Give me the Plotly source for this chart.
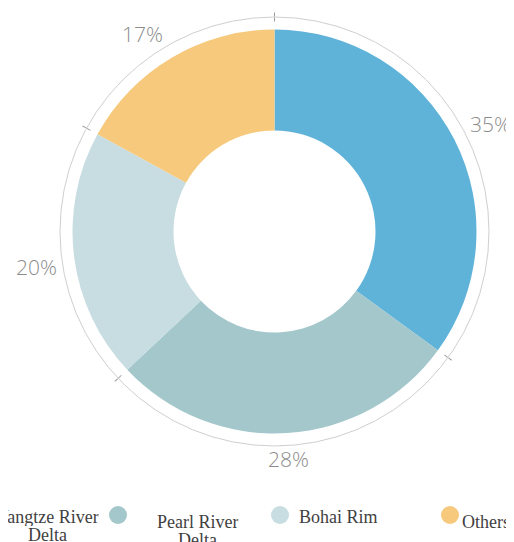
import math
import plotly.graph_objects as go

# data
REGIONS = ["Yangtze River Delta", "Pearl River Delta", "Bohai Rim", "Others"]
LEGEND_LINES = [["Yangtze River", "Delta"], ["Pearl River", "Delta"], ["Bohai Rim"], ["Others"]]
SHARES = [35, 28, 20, 17]
COLORS = ["#5fb3d9", "#a3c7cb", "#c7dde1", "#f7c97d"]

# the page body has an 8px margin, so the figure sits at (8, 8) on screen
BODY = 8
W, H = 514 - BODY, 542 - BODY
CX, CY = 274.5, 231.5        # centre of the donut, screen px
R_PIE, R_RING = 202, 214.5
R_LABEL = 219                 # where the inner corner of each % label sits
LABEL_W, LABEL_H = 42, 17

LABEL_FONT = dict(family="Open Sans, sans-serif", size=21, color="#8c8c8c", weight=300)
LEGEND_FONT = dict(family="Liberation Serif, Times New Roman, serif", size=18, color="#3f3f3f")

# legend placement (screen px, layout only)
LEG_DOT_X = [-40, 118, 280, 450]
LEG_TEXT_X = [47, 197, 338, 486]
LEG_TEXT_TOP = [506, 511, 506, 511]
LEG_DOT_Y = 515
LEG_LINE_H = 18


def _domain(r):
    return dict(x=[(CX - BODY - r) / W, (CX - BODY + r) / W],
                y=[(H - (CY - BODY) - r) / H, (H - (CY - BODY) + r) / H])


def _px(x, y):
    # screen px -> paper coords
    return (x - BODY) / W, 1 - (y - BODY) / H


# slice edges / middles in degrees, clockwise from 12 o'clock
total = sum(SHARES)
edges, mids, acc = [], [], 0
for s in SHARES:
    edges.append(acc / total * 360)
    mids.append((acc + s / 2) / total * 360)
    acc += s

fig = go.Figure()
fig.add_trace(go.Pie(
    labels=REGIONS, values=SHARES, hole=0.5, sort=False,
    direction="clockwise", rotation=0,
    marker=dict(colors=COLORS, line=dict(width=0)),
    textinfo="none", showlegend=False, domain=_domain(R_PIE),
    hovertemplate="%{label}: %{value}%<extra></extra>",
))
for sp in ["polar", "polar2"]:
    fig.add_trace(go.Scatterpolar(r=[None], theta=[None], subplot=sp,
                                  showlegend=False, hoverinfo="skip"))

_ring = dict(rotation=90, direction="clockwise", showgrid=False,
             tickvals=edges, showticklabels=False,
             tickcolor="#9a9a9a", ticklen=4, tickwidth=1)

fig.update_layout(
    width=W, height=H,
    paper_bgcolor="white", plot_bgcolor="white",
    margin=dict(l=0, r=0, t=0, b=0, autoexpand=False),
    showlegend=False,
    polar=dict(domain=_domain(R_RING), bgcolor="rgba(0,0,0,0)",
               radialaxis=dict(visible=False),
               angularaxis=dict(_ring, ticks="outside", showline=True,
                                linecolor="#cfcfcf", linewidth=1)),
    polar2=dict(domain=_domain(R_RING), bgcolor="rgba(0,0,0,0)",
                radialaxis=dict(visible=False),
                angularaxis=dict(_ring, ticks="inside", showline=False)),
)

# percentage labels outside the ring, inner corner facing the centre
for s, m in zip(SHARES, mids):
    a = math.radians(90 - m)
    c, sn = math.cos(a), math.sin(a)
    px_ = CX + R_LABEL * c
    py_ = CY - R_LABEL * sn
    xo = LABEL_W / 2 * (1 if c > 0.2 else -1 if c < -0.2 else 0)
    yo = LABEL_H / 2 * (1 if sn > 0 else -1)
    lx, ly = _px(px_ + xo, py_ - yo)
    fig.add_annotation(x=lx, y=ly, xref="paper", yref="paper",
                       xanchor="center", yanchor="middle", showarrow=False,
                       text=f"{s}%", font=LABEL_FONT)

# legend drawn by hand: circle marker + centred serif text
for i, lines in enumerate(LEGEND_LINES):
    dx, dy = _px(LEG_DOT_X[i], LEG_DOT_Y)
    rx, ry = 9 / W, 9 / H
    fig.add_shape(type="circle", xref="paper", yref="paper",
                  x0=dx - rx, x1=dx + rx, y0=dy - ry, y1=dy + ry,
                  fillcolor=COLORS[i], line=dict(width=0))
    for k, line in enumerate(lines):
        tx, ty = _px(LEG_TEXT_X[i], LEG_TEXT_TOP[i] + k * LEG_LINE_H)
        fig.add_annotation(x=tx, y=ty, xref="paper", yref="paper",
                           xanchor="center", yanchor="top", showarrow=False,
                           height=LEG_LINE_H, valign="middle",
                           text=line, font=LEGEND_FONT)

fig.write_html("out.html")
